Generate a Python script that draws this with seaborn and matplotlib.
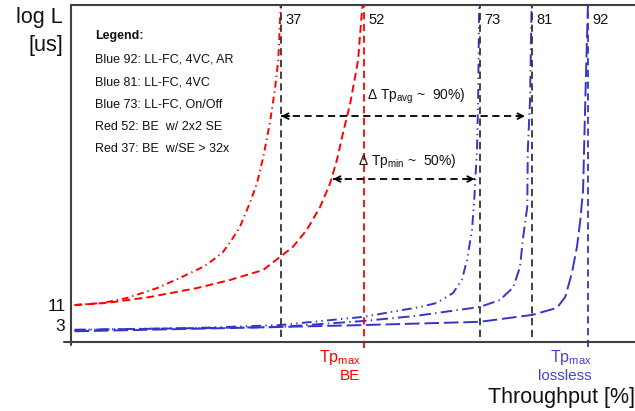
import numpy as np
import pandas as pd
import matplotlib
matplotlib.use("Agg")
import matplotlib.pyplot as plt
import seaborn as sns

# ---- data (throughput %, latency) ----
tp_red37 = [0, 5.1, 9.4, 14.8, 18.9, 23.0, 24.8, 26.6, 27.9, 29.6, 31.4, 32.7, 33.8, 35.0,
            35.9, 36.5, 37.0]
lat_red37 = [11, 12.6, 17.4, 33, 64, 130, 204, 343, 656, 1.7e3, 8.2e3, 3.0e4, 1.6e5, 1.5e6,
             1.3e7, 8.8e7, 5e9]

tp_red52 = [0, 5.8, 13.5, 21.9, 27.9, 33.8, 36.8, 39.1, 41.6, 44.0, 45.8, 47.0, 48.1, 49.4,
            50.25, 50.8, 51.5, 51.8]
lat_red52 = [11, 12.6, 18.5, 33, 56, 107, 248, 474, 1.43e3, 6.4e3, 3.0e4, 1.34e5, 7.7e5, 5.4e6,
             2.9e7, 8.8e7, 2.25e9, 5e9]

tp_blue73 = [0, 22.5, 36.8, 51.7, 61.9, 64.9, 67.8, 69.4, 70.3, 71.2, 71.6, 72.1, 72.3, 72.5]
lat_blue73 = [2.2, 2.5, 3.0, 5.1, 9.7, 12.6, 24, 56, 204, 1.4e3, 1e4, 2.6e5, 6.6e6, 5e9]

tp_blue81 = [0, 36.8, 51.7, 61.0, 72.6, 76.2, 78.6, 79.8, 80.3, 81.1, 81.2, 81.6, 81.9]
lat_blue81 = [2.2, 2.65, 3.9, 5.4, 9.7, 15.2, 35, 130, 747, 6.4e3, 2.6e5, 6.6e6, 5e9]

tp_blue92 = [0, 36.8, 51.7, 72.6, 82.0, 86.4, 87.9, 89.1, 90.0, 90.6, 91.1, 91.5, 92.0]
lat_blue92 = [2.0, 2.65, 3.0, 3.7, 5.8, 9.1, 18.5, 88, 474, 2.7e3, 1.9e4, 6.6e6, 5e9]

# saturation throughputs (vertical markers) and their labels
sat_tp = [37.0, 51.9, 72.6, 81.9, 92.0]
sat_labels = ['37', '52', '73', '81', '92']

# delta arrows: (x start, x end, latency level)
avg_arrow = (37.0, 80.7, 2.3e6)
min_arrow = (46.3, 71.7, 3.9e4)

legend_lines = ['Blue 92: LL-FC, 4VC, AR',
                'Blue 81: LL-FC, 4VC',
                'Blue 73: LL-FC, On/Off',
                'Red 52: BE  w/ 2x2 SE',
                'Red 37: BE  w/SE > 32x']

# ---- style ----
sns.set_style('white')
plt.rcParams['font.family'] = ['Liberation Sans', 'DejaVu Sans']
plt.rcParams['mathtext.fontset'] = 'custom'
plt.rcParams['mathtext.rm'] = 'Liberation Sans'
plt.rcParams['mathtext.it'] = 'Liberation Sans:italic'
plt.rcParams['mathtext.bf'] = 'Liberation Sans:bold'

RED = '#ff0000'
BLUE = '#3535c8'
DARK = '#333333'

curves = [('red37', tp_red37, lat_red37), ('red52', tp_red52, lat_red52),
          ('blue73', tp_blue73, lat_blue73), ('blue81', tp_blue81, lat_blue81),
          ('blue92', tp_blue92, lat_blue92)]
df = pd.concat([pd.DataFrame({'tp': x, 'lat': y, 'curve': n}) for n, x, y in curves],
               ignore_index=True)
palette = {'red37': RED, 'red52': RED, 'blue73': BLUE, 'blue81': BLUE, 'blue92': BLUE}
dashes = {'red37': (3.5, 2, 0.7, 2), 'red52': (4, 2.2),
          'blue73': (5, 2.2, 0.7, 2.2, 0.7, 2.2), 'blue81': (6, 2.2, 0.7, 2.2),
          'blue92': (7.5, 2.5)}

fig = plt.figure(figsize=(6.35, 4.11), dpi=100)
ax = fig.add_axes([71 / 635, 69 / 411, 564 / 635, 337 / 411])

sns.lineplot(data=df, x='tp', y='lat', hue='curve', style='curve', palette=palette,
             dashes=dashes, estimator=None, sort=False, legend=False, lw=1.4, ax=ax)

ax.set_yscale('log')
ax.set_xlim(-0.63, 100.4)
ax.set_ylim(1, 3.11e9)

# saturation markers
for tp, lab in zip(sat_tp, sat_labels):
    if lab == '52':
        c, lo = RED, -0.018
    elif lab == '92':
        c, lo = BLUE, -0.015
    else:
        c, lo = DARK, 0.015
    ax.axvline(tp, ymin=lo, ymax=1, color=c, lw=1.3, ls=(0, (4, 2.5)), clip_on=False)
    ax.text(tp + 0.8, 0.955, lab, transform=ax.get_xaxis_transform(),
            fontsize=10.5, va='center', ha='left', color='#111111')

# delta arrows
for x0, x1, y in (avg_arrow, min_arrow):
    ax.plot([x0, x1], [y, y], color='black', lw=1.3, ls=(0, (4, 2.5)))
    ax.annotate('', xy=(x0, y), xytext=(x0 + 1.5, y),
                arrowprops=dict(arrowstyle='->', lw=1.3, color='black',
                                shrinkA=0, shrinkB=0, mutation_scale=10))
    ax.annotate('', xy=(x1, y), xytext=(x1 - 1.5, y),
                arrowprops=dict(arrowstyle='->', lw=1.3, color='black',
                                shrinkA=0, shrinkB=0, mutation_scale=10))

ax.text(52.4, 6.6e6, 'Δ Tp$_{\\mathrm{avg}}$ ~  90%)', fontsize=10, va='baseline',
        color='#111111')
ax.text(50.8, 9.7e4, 'Δ Tp$_{\\mathrm{min}}$ ~  50%)', fontsize=10, va='baseline',
        color='#111111')

# in-plot legend text
ax.text(0.0426, 0.908, 'Legend:', transform=ax.transAxes, fontsize=9,
        fontweight='bold', va='center', color='#111111')
for i, line in enumerate(legend_lines):
    ax.text(0.0426, 0.837 - i * 0.066, line, transform=ax.transAxes, fontsize=9,
            va='center', color='#111111')

# Tp max labels under the axis
ax.text(51.2, -0.06, 'Tp$_{\\mathrm{max}}$', transform=ax.get_xaxis_transform(),
        color=RED, fontsize=11.5, ha='right', va='baseline')
ax.text(51.2, -0.113, 'BE', transform=ax.get_xaxis_transform(),
        color=RED, fontsize=11, ha='right', va='baseline')
ax.text(92.7, -0.06, 'Tp$_{\\mathrm{max}}$', transform=ax.get_xaxis_transform(),
        color='#4444d4', fontsize=11.5, ha='right', va='baseline')
ax.text(92.7, -0.113, 'lossless', transform=ax.get_xaxis_transform(),
        color='#4444d4', fontsize=11, ha='right', va='baseline')

# axes styling
for side in ['left', 'top', 'bottom']:
    ax.spines[side].set_color('#404040')
    ax.spines[side].set_linewidth(1.5)
ax.spines['right'].set_visible(False)
ax.plot([-0.013, 0], [0, 0], transform=ax.transAxes, color='#404040', lw=1.5, clip_on=False)
ax.plot([0, 0], [-0.01, 0], transform=ax.transAxes, color='#404040', lw=1.5, clip_on=False)

ax.set_xticks([])
ax.set_yticks([3, 11])
ax.set_yticklabels(['3', '11'])
ax.yaxis.set_minor_locator(matplotlib.ticker.NullLocator())
ax.tick_params(axis='y', length=0, pad=4, labelsize=12.5, labelcolor='#111111')
ax.set_xlabel('')
ax.set_ylabel('')

fig.text(63 / 635, 1 - 18 / 411, 'log L', ha='right', va='center', fontsize=15.5,
         color='#111111')
fig.text(63 / 635, 1 - 45 / 411, '[us]', ha='right', va='center', fontsize=15.5,
         color='#111111')
fig.text(1.0, 1 - 397 / 411, 'Throughput [%]', ha='right', va='center', fontsize=15.5,
         color='#111111')

fig.savefig('out.png', dpi=100)
